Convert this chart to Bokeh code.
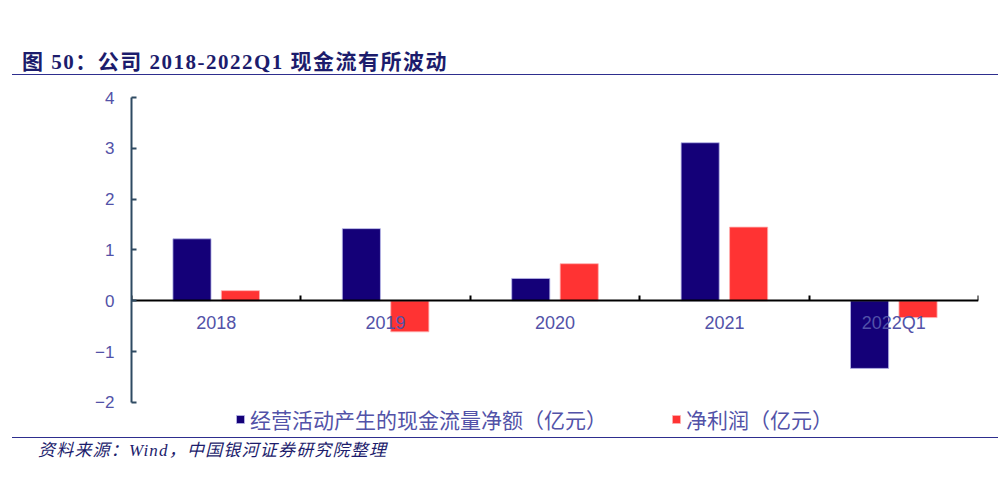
from bokeh.plotting import figure
from bokeh.layouts import column
from bokeh.models import (ColumnDataSource, FixedTicker, Range1d, Legend, LegendItem, Div)
from bokeh.core.properties import value
from bokeh.transform import dodge
from bokeh.embed import file_html
from bokeh.resources import INLINE

# ---- data ----
categories = ["2018", "2019", "2020", "2021", "2022Q1"]
cash_flow = [1.22, 1.42, 0.44, 3.11, -1.33]      # 经营活动产生的现金流量净额（亿元）
net_profit = [0.20, -0.61, 0.73, 1.45, -0.33]    # 净利润（亿元）
y_ticks = [-2, -1, 0, 1, 2, 3, 4]
series_names = ["经营活动产生的现金流量净额（亿元）", "净利润（亿元）"]
title_text = "图 50：公司 2018-2022Q1 现金流有所波动"
source_text = "资料来源：Wind，中国银河证券研究院整理"

BLUE = "#140078"
RED = "#ff3333"
LABEL = "#5252a8"
NAVY = "#1c1c6c"
RULE = "#2e2e8e"
W = 1000

idx = list(range(len(categories)))
src = ColumnDataSource(dict(x=idx, cf=cash_flow, npf=net_profit, lab=categories,
                            zero=[0] * len(categories)))

# ---- header ----
header = Div(width=W, height=80, margin=0, text=(
    f'<div style="box-sizing:border-box;height:75px;width:{W - 14}px;margin-left:12px;'
    f'padding:50px 0 0 10px;border-bottom:1.5px solid {RULE};'
    f"font:bold 21px/24px 'Liberation Serif','Noto Sans CJK SC';letter-spacing:1.5px;"
    f'color:{NAVY};white-space:nowrap">{title_text}</div>'))

# ---- main chart ----
# y range extends a little below -2 so the legend row fits inside the frame
p = figure(width=W, height=354, x_range=Range1d(-0.5, len(categories) - 0.5),
           y_range=Range1d(-2.63, y_ticks[-1]),
           toolbar_location=None, output_backend="svg",
           min_border_left=131, min_border_right=22, min_border_top=17, min_border_bottom=0)
p.outline_line_color = None
p.grid.visible = False

r1 = p.vbar(x=dodge("x", -0.143, range=p.x_range), top="cf", bottom=0, width=0.225, source=src,
            fill_color=BLUE, line_color="#b8b8e8", line_width=0.8)
r2 = p.vbar(x=dodge("x", 0.143, range=p.x_range), top="npf", bottom=0, width=0.225, source=src,
            fill_color=RED, line_color="#ffb0b0", line_width=0.8)

# category labels just under the zero line, drawn over the bars
p.text(x="x", y="zero", text="lab", source=src, y_offset=22, text_align="center",
       text_baseline="middle", text_font=value("Liberation Sans"), text_font_size="18px",
       text_color=LABEL)

# y axis
ya = p.yaxis[0]
ya.ticker = FixedTicker(ticks=y_ticks)
ya.bounds = (y_ticks[0], y_ticks[-1])
ya.major_tick_in = 5
ya.major_tick_out = 0
ya.minor_tick_line_color = None
ya.axis_line_color = "#2e4a62"
ya.axis_line_width = 2
ya.major_tick_line_color = "#2e4a62"
ya.major_tick_line_width = 2
ya.major_label_text_font = "Liberation Sans"
ya.major_label_text_font_size = "17px"
ya.major_label_text_color = LABEL
ya.major_label_standoff = 17
ya.major_label_overrides = {t: ("\u2212" + str(-t) if t < 0 else str(t)) for t in y_ticks}

# x axis drawn at y=0, ticks only at category boundaries
xa = p.xaxis[0]
xa.fixed_location = 0
xa.ticker = FixedTicker(ticks=[], minor_ticks=[i - 0.5 for i in idx] + [idx[-1] + 0.5])
xa.major_tick_in = 0
xa.major_tick_out = 0
xa.minor_tick_in = 5
xa.minor_tick_out = 0
xa.minor_tick_line_color = "black"
xa.minor_tick_line_width = 2
xa.axis_line_color = "black"
xa.axis_line_width = 2

legend = Legend(items=[LegendItem(label=series_names[0], renderers=[r1]),
                       LegendItem(label=series_names[1], renderers=[r2])],
                orientation="horizontal", location=(104, 0),
                glyph_width=10, glyph_height=10, label_standoff=5, spacing=64,
                padding=0, margin=0, border_line_color=None, background_fill_alpha=0,
                label_text_font="Noto Sans CJK SC", label_text_font_size="21px",
                label_text_color=LABEL)
p.add_layout(legend, "center")

# ---- footer ----
footer = Div(width=W, height=48, margin=0, text=(
    f'<div style="box-sizing:border-box;margin:3px 0 0 12px;width:{W - 14}px;'
    f'border-top:1.5px solid {RULE};padding:1.5px 0 0 26px;'
    f"font:italic 17px/22px 'Liberation Serif','Noto Sans CJK SC';letter-spacing:1.2px;"
    f'color:{NAVY};white-space:nowrap">{source_text}</div>'))

layout = column(header, p, footer, spacing=0)
open("out.html", "w").write(file_html(layout, INLINE))
